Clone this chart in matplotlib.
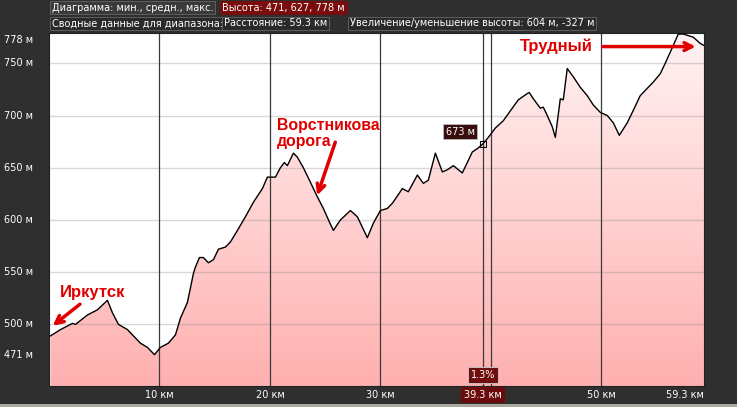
import numpy as np
import matplotlib.pyplot as plt
from matplotlib.colors import LinearSegmentedColormap
from matplotlib.patches import Rectangle

# elevation profile
dist_km = [0.14, 1.04, 2.13, 2.40, 3.48, 4.39, 5.29, 5.75, 6.29, 7.10, 8.28, 8.91,
           9.55, 10.09, 10.81, 11.45, 11.90, 12.53, 13.08, 13.26, 13.62, 13.98,
           14.43, 14.89, 15.34, 15.97, 16.43, 17.06, 17.78, 18.51, 19.32, 19.77,
           20.05, 20.50, 20.95, 21.31, 21.58, 22.13, 22.49, 23.03, 23.67, 24.30,
           24.84, 25.43, 25.75, 26.38, 27.29, 27.92, 28.82, 29.37, 30.00, 30.63,
           31.09, 31.99, 32.53, 33.35, 33.89, 34.34, 34.98, 35.61, 36.06, 36.61,
           37.42, 37.87, 38.32, 38.87, 39.30, 39.77, 40.41, 41.13, 41.94, 42.49,
           43.30, 43.48, 43.85, 44.48, 44.75, 45.11, 45.57, 45.84, 46.29, 46.56,
           46.92, 47.47, 48.10, 48.73, 49.28, 49.91, 50.54, 51.09, 51.63, 52.35,
           52.90, 53.53, 54.16, 54.71, 55.34, 55.79, 56.43, 56.97, 57.42, 58.33,
           58.96, 59.30]
elev_m = [489, 495, 501, 500, 509, 514, 523, 511, 500, 495, 482, 478,
          471, 478, 482, 490, 506, 521, 549, 555, 564, 564,
          559, 562, 572, 574, 579, 590, 603, 617, 630, 641,
          641, 641, 650, 655, 652, 664, 660, 650, 636, 622,
          611, 597, 590, 600, 609, 603, 583, 597, 609, 611,
          616, 630, 627, 643, 635, 638, 664, 646, 648, 652,
          645, 655, 665, 669, 673, 679, 688, 695, 707, 715,
          721, 722, 716, 707, 708, 700, 689, 679, 716, 715,
          745, 737, 727, 719, 710, 703, 700, 693, 681, 693,
          705, 719, 726, 732, 740, 750, 765, 778, 778, 775,
          769, 767]

y_ticks = [471, 500, 550, 600, 650, 700, 750, 778]
y_grid = [500, 550, 600, 650, 700, 750]
x_ticks = [10, 20, 30, 50]
x_grid = [10, 20, 30, 40, 50]
total_km = 59.3
cursor_km = 39.3
cursor_m = 673
cursor_grade = "1.3%"

BG = '#2f2f2f'
RED = '#e00000'
W, H = 737, 407

fig = plt.figure(figsize=(W / 100, H / 100), dpi=100, facecolor=BG)
ax = fig.add_axes([49 / W, 21 / H, 655 / W, 353 / H])
ax.set_xlim(0, total_km)
ax.set_ylim(441, 779)
ax.set_facecolor('white')

# gradient fill under the profile
cmap = LinearSegmentedColormap.from_list('pink', ['#ffb0b0', '#ffd2d2', '#fff2f2'])
grad = np.linspace(0, 1, 256).reshape(-1, 1)
img = ax.imshow(grad, cmap=cmap, aspect='auto', origin='lower',
                extent=[0, total_km, 441, 779], zorder=1)
poly = ax.fill_between(dist_km, elev_m, 441, color='none', lw=0)
img.set_clip_path(poly.get_paths()[0], transform=ax.transData)

for v in y_grid:
    ax.axhline(v, color='#808080', alpha=0.3, lw=1, zorder=2)
for v in x_grid:
    ax.axvline(v, color='#3a3a3a', lw=0.9, zorder=2)

ax.plot(dist_km, elev_m, color='black', lw=1.0, zorder=3)

# cursor
ax.axvline(cursor_km, color='#3a3a3a', lw=0.9, zorder=2)
ax.plot([cursor_km], [cursor_m], marker='s', ms=5, mfc='none', mec='black', mew=0.8, zorder=4)
ax.annotate(f"{cursor_m} м", (cursor_km, cursor_m), xytext=(-23, 12),
            textcoords='offset pixels', ha='center', va='center', fontsize=7,
            color='white', zorder=5,
            bbox=dict(boxstyle='square,pad=0.25', fc='#3a0d0d', ec='#bbbbbb', lw=0.6))
ax.text(cursor_km, 0.03, cursor_grade, transform=ax.get_xaxis_transform(),
        ha='center', va='center', fontsize=7, color='white', zorder=5,
        bbox=dict(boxstyle='square,pad=0.3', fc='#6e0e0e', ec='#cccccc', lw=0.6))

for s in ax.spines.values():
    s.set_color('#222222')
ax.set_xticks([])
ax.set_yticks([])

# axis labels
for v in y_ticks:
    dy = -6 if v == y_ticks[-1] else 0
    ax.annotate(f"{v} м", (0, v), xycoords=ax.get_yaxis_transform(),
                xytext=(-16, dy), textcoords='offset pixels',
                ha='right', va='center', fontsize=7, color='white')
for v in x_ticks:
    ax.annotate(f"{v} км", (v, 0), xycoords=ax.get_xaxis_transform(),
                xytext=(0, -9), textcoords='offset pixels',
                ha='center', va='center', fontsize=7, color='white')
ax.annotate(f"{total_km} км", (total_km, 0), xycoords=ax.get_xaxis_transform(),
            xytext=(0, -9), textcoords='offset pixels',
            ha='right', va='center', fontsize=7, color='white')
ax.annotate(f"{cursor_km} км", (cursor_km, 0), xycoords=ax.get_xaxis_transform(),
            xytext=(0, -9), textcoords='offset pixels',
            ha='center', va='center', fontsize=7, color='white',
            bbox=dict(boxstyle='square,pad=0.3', fc='#6b0b0b', ec='none'))

# red annotations
ann = dict(color=RED, fontweight='bold', family='Liberation Sans')
arrow = dict(arrowstyle='->', color=RED, lw=2.5, mutation_scale=14)
ax.annotate("Иркутск", xy=(0.14, 497), xytext=(1.0, 531), ha='left', va='center',
            fontsize=12, **ann)
ax.annotate("", xy=(0.14, 497), xytext=(3.0, 521), arrowprops=arrow)
ax.annotate("Ворстникова\nдорога", xy=(24.2, 621), xytext=(20.6, 683),
            ha='left', va='center', linespacing=1.05, fontsize=11.4, **ann)
ax.annotate("", xy=(24.2, 621), xytext=(26.0, 677), arrowprops=arrow)
ax.annotate("Трудный", xy=(58.7, 766), xytext=(42.6, 766), ha='left', va='center',
            fontsize=12, **ann)
ax.annotate("", xy=(58.8, 766), xytext=(49.9, 766), arrowprops=arrow)

# header rows
hdr = dict(fontsize=7, color='white', va='center', ha='left')
fig.text(52 / W, 1 - 7.5 / H, "Диаграмма: мин., средн., макс.",
         bbox=dict(boxstyle='square,pad=0.2', fc='#3a3a3a', ec='#666666', lw=0.6), **hdr)
fig.text(222 / W, 1 - 7.5 / H, "Высота: 471, 627, 778 м",
         bbox=dict(boxstyle='square,pad=0.2', fc='#7a0c0c', ec='#7a0c0c', lw=0.6), **hdr)
fig.text(52 / W, 1 - 23.5 / H, "Сводные данные для диапазона:",
         bbox=dict(boxstyle='square,pad=0.2', fc='#2a2a2a', ec='#666666', lw=0.6), **hdr)
fig.text(224 / W, 1 - 23.5 / H, "Расстояние: 59.3 км",
         bbox=dict(boxstyle='square,pad=0.2', fc='#2a2a2a', ec='#666666', lw=0.6), **hdr)
fig.text(350 / W, 1 - 23.5 / H, "Увеличение/уменьшение высоты: 604 м, -327 м",
         bbox=dict(boxstyle='square,pad=0.2', fc='#2a2a2a', ec='#666666', lw=0.6), **hdr)

# light window edge along the bottom
fig.add_artist(Rectangle((0, 0), 1, 3 / H, transform=fig.transFigure,
                         fc='#a9a99d', ec='none'))

fig.savefig('out.png', dpi=100, facecolor=BG)
